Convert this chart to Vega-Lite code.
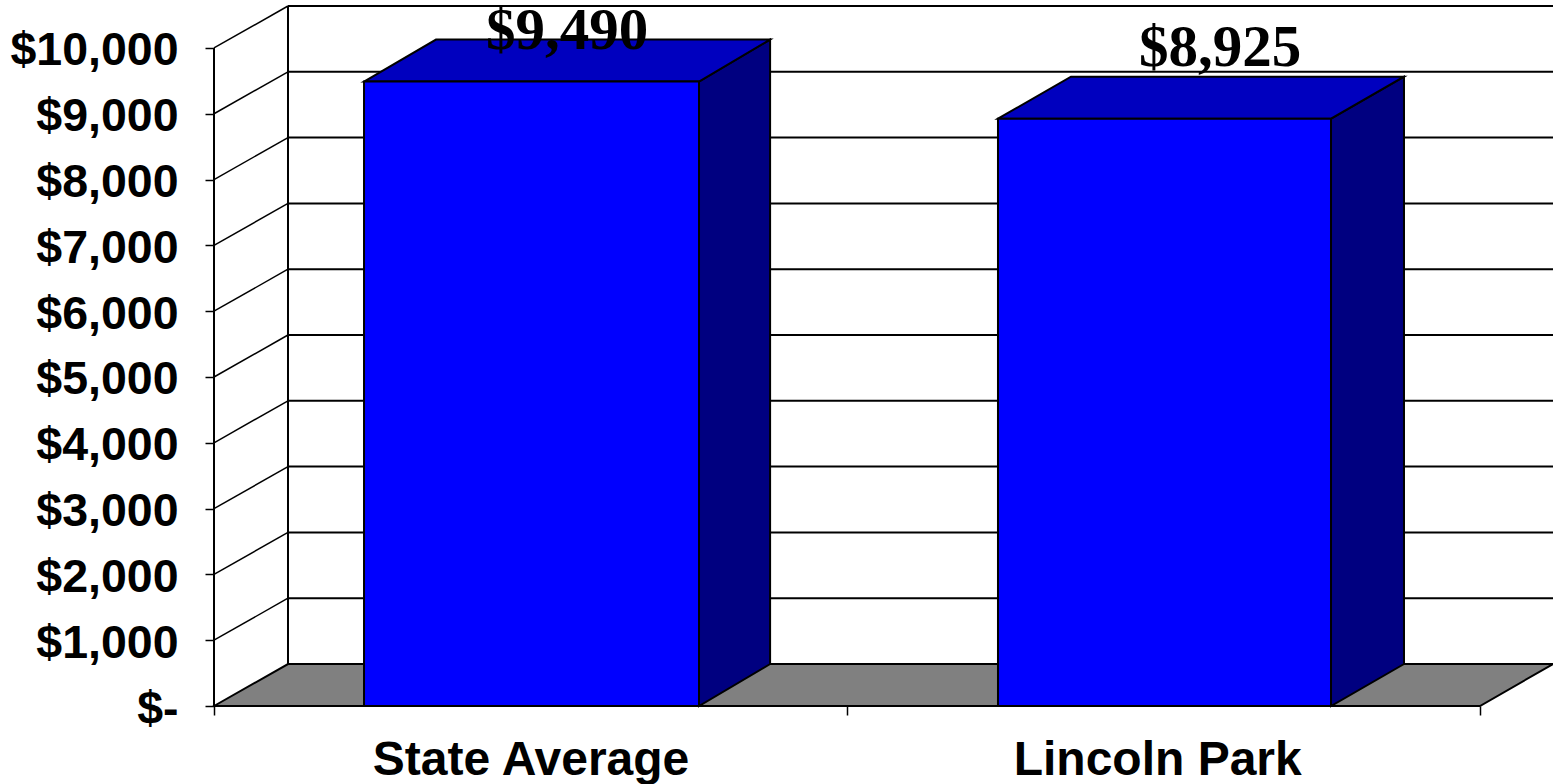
{
"$schema":"https://vega.github.io/schema/vega-lite/v6.json",
"autosize":{"type":"none"},
"padding":{"left":214,"top":0,"right":0,"bottom":78},
"width":1339,"height":706,
"background":"#ffffff",
"config":{"view":{"stroke":null}},
"datasets":{
"floor":[
{"shape":"floor","face":"floor","x":0,"y":0,"y2":0},
{"shape":"floor","face":"floor","x":0.1169,"y":638,"y2":0},
{"shape":"floor","face":"floor","x":2,"y":638,"y2":0},
{"shape":"floor","face":"floor","x":2.1153,"y":638,"y2":638}
],
"sides":[
{"x":0,"x2":0.1169,"y":1000,"y2":1638},
{"x":0,"x2":0.1169,"y":2000,"y2":2638},
{"x":0,"x2":0.1169,"y":3000,"y2":3638},
{"x":0,"x2":0.1169,"y":4000,"y2":4638},
{"x":0,"x2":0.1169,"y":5000,"y2":5638},
{"x":0,"x2":0.1169,"y":6000,"y2":6638},
{"x":0,"x2":0.1169,"y":7000,"y2":7638},
{"x":0,"x2":0.1169,"y":8000,"y2":8638},
{"x":0,"x2":0.1169,"y":9000,"y2":9638},
{"x":0,"x2":0.1169,"y":10000,"y2":10638}
],
"walls":[
{"x":0,"x2":0,"y":0,"y2":10000},
{"x":0.1169,"x2":0.1169,"y":638,"y2":10638},
{"x":0.1169,"x2":2.1153,"y":1638,"y2":1638},
{"x":0.1169,"x2":2.1153,"y":2638,"y2":2638},
{"x":0.1169,"x2":2.1153,"y":3638,"y2":3638},
{"x":0.1169,"x2":2.1153,"y":4638,"y2":4638},
{"x":0.1169,"x2":2.1153,"y":5638,"y2":5638},
{"x":0.1169,"x2":2.1153,"y":6638,"y2":6638},
{"x":0.1169,"x2":2.1153,"y":7638,"y2":7638},
{"x":0.1169,"x2":2.1153,"y":8638,"y2":8638},
{"x":0.1169,"x2":2.1153,"y":9638,"y2":9638},
{"x":0.1169,"x2":2.1153,"y":10638,"y2":10638}
],
"faces":[
{"shape":"State Average side","face":"side","x":0.7662,"y":9490,"y2":0},
{"shape":"State Average side","face":"side","x":0.8785,"y":10128,"y2":638},
{"shape":"State Average top","face":"top","x":0.237,"y":9490,"y2":9490},
{"shape":"State Average top","face":"top","x":0.3507,"y":10128,"y2":9490},
{"shape":"State Average top","face":"top","x":0.7662,"y":10128,"y2":9490},
{"shape":"State Average top","face":"top","x":0.8785,"y":10128,"y2":10128},
{"shape":"Lincoln Park side","face":"side","x":1.7646,"y":8925,"y2":0},
{"shape":"Lincoln Park side","face":"side","x":1.8799,"y":9563,"y2":638},
{"shape":"Lincoln Park top","face":"top","x":1.2385,"y":8925,"y2":8925},
{"shape":"Lincoln Park top","face":"top","x":1.3538,"y":9563,"y2":8925},
{"shape":"Lincoln Park top","face":"top","x":1.7646,"y":9563,"y2":8925},
{"shape":"Lincoln Park top","face":"top","x":1.8799,"y":9563,"y2":9563}
],
"bars":[
{"category":"State Average","x":0.237,"x2":0.7662,"y":9490,"y2":0},
{"category":"Lincoln Park","x":1.2385,"x2":1.7646,"y":8925,"y2":0}
],
"labels":[
{"label":"$9,490","x":0.5577,"y":9985},
{"label":"$8,925","x":1.5893,"y":9725}
]
},
"encoding":{
"x":{"field":"x","type":"quantitative","scale":{"domain":[0,2.1153],"nice":false,"zero":false},
"axis":{"title":null,"grid":false,"domain":false,"values":[0,0.5,1,1.49,2],"tickColor":"#000000","tickWidth":1.5,"tickSize":9,
"tickOpacity":{"condition":{"test":"datum.value==0.5||datum.value==1.49","value":0},"value":1},
"labelExpr":"datum.value==0.5?'State Average':datum.value==1.49?'Lincoln Park':''",
"labelFont":"Liberation Sans","labelFontWeight":"bold","labelFontSize":48,"labelColor":"#000000","labelPadding":45,"labelBaseline":"middle","labelOverlap":false,"labelBound":false,"labelFlush":false,"labelLimit":600}},
"y":{"field":"y","type":"quantitative","scale":{"domain":[0,10729],"nice":false,"zero":false},
"axis":{"title":null,"grid":false,"domain":false,"values":[0,1000,2000,3000,4000,5000,6000,7000,8000,9000,10000],"tickColor":"#000000","tickWidth":1.5,"tickSize":9,
"labelExpr":"datum.value==0?'$-':'$'+format(datum.value,',')",
"labelFont":"Liberation Sans","labelFontWeight":"bold","labelFontSize":46.5,"labelColor":"#000000","labelPadding":27,"labelBaseline":"middle","labelOffset":3,"labelOverlap":false,"labelBound":false,"labelFlush":false,"labelLimit":300}}
},
"layer":[
{"data":{"name":"floor"},"mark":{"type":"area","fill":"#808080","stroke":"#000000","strokeWidth":2},
"encoding":{"y2":{"field":"y2"},"detail":{"field":"shape"}}},
{"data":{"name":"sides"},"mark":{"type":"rule","stroke":"#000000","strokeWidth":1.5},
"encoding":{"x2":{"field":"x2"},"y2":{"field":"y2"}}},
{"data":{"name":"walls"},"mark":{"type":"rule","stroke":"#000000","strokeWidth":2},
"encoding":{"x2":{"field":"x2"},"y2":{"field":"y2"}}},
{"data":{"name":"faces"},"mark":{"type":"area","stroke":"#000000","strokeWidth":2},
"encoding":{"y2":{"field":"y2"},"detail":{"field":"shape"},
"fill":{"field":"face","type":"nominal","legend":null,"scale":{"domain":["side","top"],"range":["#000080","#0000BF"]}}}},
{"data":{"name":"bars"},"mark":{"type":"rect","fill":"#0000FF","stroke":"#000000","strokeWidth":2},
"encoding":{"x2":{"field":"x2"},"y2":{"field":"y2"}}},
{"data":{"name":"labels"},"mark":{"type":"text","font":"Liberation Serif","fontWeight":"bold","fontSize":59,"fill":"#000000","align":"center","baseline":"alphabetic"},
"encoding":{"text":{"field":"label"}}}
]
}
